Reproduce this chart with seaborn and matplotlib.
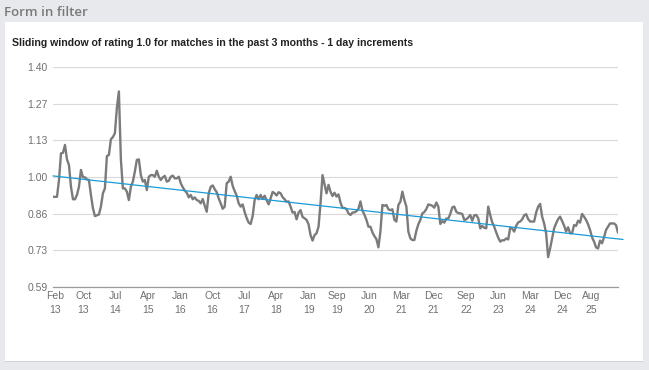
import numpy as np
import pandas as pd
import matplotlib
matplotlib.use("Agg")
import matplotlib.pyplot as plt
import seaborn as sns
from matplotlib.patches import Rectangle

panel_title = "Form in filter"
chart_title = "Sliding window of rating 1.0 for matches in the past 3 months - 1 day increments"

start_date = "2013-01-29"
step_days = 17

rating = [
    0.922, 0.922, 0.922, 0.984, 1.082, 1.084, 1.113, 1.060, 1.039, 0.959,
    0.913, 0.913, 0.929, 0.959, 1.021, 0.994, 0.994, 0.986, 0.984, 0.929,
    0.880, 0.851, 0.854, 0.857, 0.886, 0.935, 0.953, 1.072, 1.076, 1.134,
    1.142, 1.156, 1.250, 1.310, 1.060, 0.953, 0.953, 0.941, 0.910, 0.959,
    0.978, 1.015, 1.058, 1.060, 1.002, 0.978, 0.984, 0.947, 0.996, 1.002,
    1.002, 0.996, 1.018, 0.996, 0.984, 0.994, 0.999, 0.978,
    0.981, 0.996, 1.000, 0.990, 0.990, 0.996, 0.972, 0.957, 0.945, 0.937,
    0.920, 0.929, 0.913, 0.920, 0.910, 0.907, 0.898, 0.914, 0.889, 0.867,
    0.935, 0.959, 0.964, 0.950, 0.939, 0.916, 0.898, 0.878, 0.886, 0.972,
    0.978, 0.996, 0.962, 0.943, 0.927, 0.898, 0.886, 0.894, 0.866, 0.844,
    0.827, 0.822, 0.851, 0.910, 0.929, 0.913, 0.929, 0.914, 0.926, 0.910,
    0.894, 0.916, 0.940, 0.935, 0.927, 0.939, 0.935, 0.921,
    0.913, 0.904, 0.905, 0.886, 0.864, 0.866, 0.839, 0.864, 0.873, 0.848,
    0.843, 0.837, 0.821, 0.781, 0.761, 0.781, 0.788, 0.812, 0.898, 1.002,
    0.969, 0.935, 0.966, 0.941, 0.925, 0.937, 0.923, 0.931, 0.901, 0.881,
    0.881, 0.877, 0.861, 0.855, 0.864, 0.865, 0.869, 0.878, 0.905, 0.871,
    0.856, 0.837, 0.812, 0.812, 0.791, 0.777, 0.766, 0.736, 0.794, 0.892,
    0.889, 0.892, 0.876, 0.873, 0.876, 0.837, 0.831, 0.892,
    0.904, 0.941, 0.910, 0.886, 0.794, 0.769, 0.763, 0.763, 0.797, 0.821,
    0.837, 0.861, 0.866, 0.877, 0.894, 0.892, 0.889, 0.882, 0.901, 0.886,
    0.822, 0.833, 0.827, 0.842, 0.842, 0.859, 0.883, 0.886, 0.867, 0.862,
    0.861, 0.859, 0.837, 0.839, 0.846, 0.855, 0.834, 0.854, 0.855, 0.843,
    0.806, 0.815, 0.808, 0.806, 0.886, 0.855, 0.828, 0.812, 0.791, 0.772,
    0.757, 0.762, 0.762, 0.769, 0.765, 0.808, 0.805,
    0.794, 0.815, 0.828, 0.831, 0.839, 0.854, 0.858, 0.840, 0.831, 0.831,
    0.831, 0.864, 0.886, 0.896, 0.849, 0.824, 0.788, 0.700, 0.732, 0.769,
    0.806, 0.824, 0.840, 0.849, 0.833, 0.816, 0.794, 0.810, 0.788, 0.788,
    0.818, 0.815, 0.834, 0.827, 0.859, 0.849, 0.837, 0.821, 0.800, 0.773,
    0.757, 0.736, 0.732, 0.761, 0.751, 0.773, 0.800, 0.812, 0.824, 0.824,
    0.824, 0.818, 0.790,
]

trend_dates = ["2013-01-29", "2026-05-15"]
trend_values = [0.999, 0.765]

y_ticks = [0.59, 0.725, 0.86, 0.995, 1.13, 1.265, 1.40]
y_tick_labels = ["0.59", "0.73", "0.86", "1.00", "1.13", "1.27", "1.40"]
x_tick_labels = ["Feb 13", "Oct 13", "Jul 14", "Apr 15", "Jan 16", "Oct 16",
                 "Jul 17", "Apr 18", "Jan 19", "Sep 19", "Jun 20", "Mar 21",
                 "Dec 21", "Sep 22", "Jun 23", "Mar 24", "Dec 24", "Aug 25"]

dates = pd.date_range(start_date, periods=len(rating), freq=f"{step_days}D")
df = pd.DataFrame({"date": dates, "rating": rating})
trend = pd.DataFrame({"date": pd.to_datetime(trend_dates), "rating": trend_values})
tick_dates = pd.to_datetime(["15 " + t for t in x_tick_labels], format="%d %b %y")

sns.set_style("white")
plt.rcParams["font.family"] = ["Liberation Sans", "DejaVu Sans"]

W, H = 649, 370
fig = plt.figure(figsize=(W / 100, H / 100), dpi=100)
fig.patch.set_facecolor("#e8e9ec")


def fx(px):
    return px / W


def fy(py):
    return 1 - py / H


fig.patches.append(Rectangle((fx(5), fy(362)), (643 - 5) / W, (362 - 22) / H,
                             transform=fig.transFigure, facecolor="#d3d4d8",
                             edgecolor="none", zorder=-3))
fig.patches.append(Rectangle((fx(5), fy(361)), (643 - 5) / W, (361 - 22) / H,
                             transform=fig.transFigure, facecolor="white",
                             edgecolor="none", zorder=-2))

fig.text(fx(4), fy(12), panel_title, fontsize=9.5, color="#7a7a7a",
         va="center", ha="left", family=["Open Sans", "DejaVu Sans"],
         fontweight="semibold")
fig.text(fx(12), fy(43), chart_title, fontsize=7.6, fontweight="bold",
         color="#222222", va="center", ha="left")

ax = fig.add_axes([fx(53), fy(287), (618 - 53) / W, (287 - 67) / H])
ax.set_zorder(1)
ax.set_facecolor("white")

sns.lineplot(data=df, x="date", y="rating", color="#7b7b7b", linewidth=1.7,
             ax=ax, zorder=3)
sns.lineplot(data=trend, x="date", y="rating", color="#1a9bd7", linewidth=0.9,
             ax=ax, zorder=4, clip_on=False)

ax.set_xlim(dates[0], dates[-1])
ax.set_ylim(0.59, 1.40)
ax.set_yticks(y_ticks)
ax.set_yticklabels(y_tick_labels)
ax.set_xticks(tick_dates)
ax.set_xticklabels([t.replace(" ", "\n") for t in x_tick_labels], linespacing=1.45)
ax.set_xlabel("")
ax.set_ylabel("")

ax.grid(axis="y", color="#d9d9d9", linewidth=0.8)
ax.grid(axis="x", visible=False)
for s in ["left", "right", "top"]:
    ax.spines[s].set_visible(False)
ax.spines["bottom"].set_color("#9a9a9a")
ax.spines["bottom"].set_linewidth(0.9)
ax.tick_params(axis="y", length=0, pad=4, labelsize=7.5, labelcolor="#707070")
ax.tick_params(axis="x", length=0, pad=3, labelsize=7.5, labelcolor="#707070")

fig.savefig("out.png", dpi=100, facecolor=fig.get_facecolor())
